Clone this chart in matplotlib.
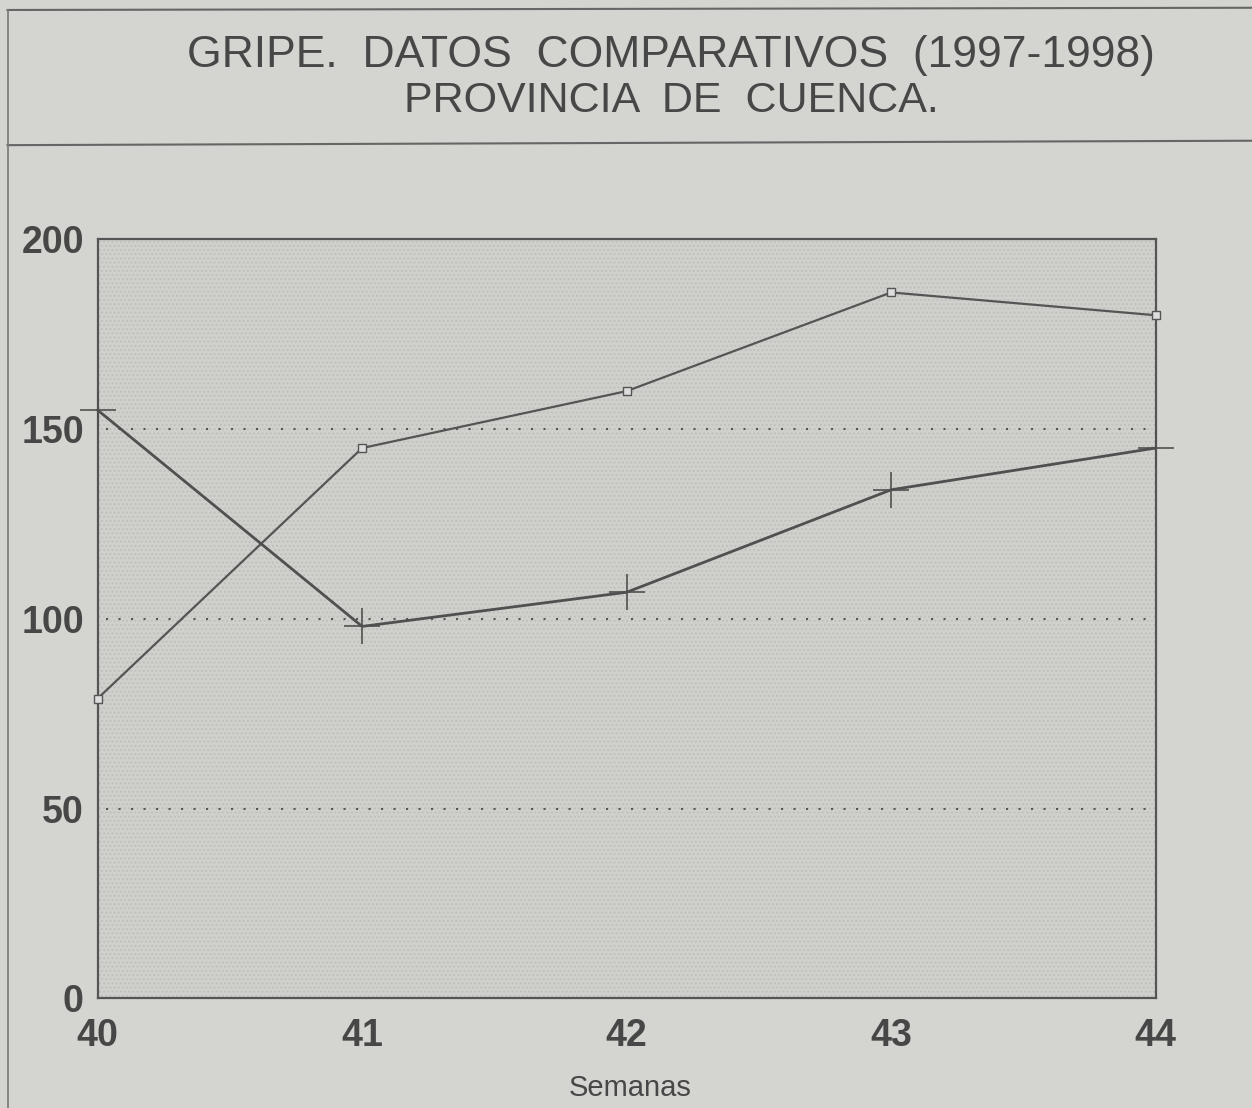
import matplotlib
matplotlib.use('Agg')

import matplotlib.pyplot as plt
from matplotlib.lines import Line2D

# data
semanas = [40, 41, 42, 43, 44]
serie_cuadros = [79, 145, 160, 186, 180]
serie_cruces = [155, 98, 107, 134, 145]
y_ticks = [0, 50, 100, 150, 200]

title_lines = ["GRIPE.  DATOS  COMPARATIVOS  (1997-1998)", "PROVINCIA  DE  CUENCA."]
xlabel = "Semanas"

font = ['Liberation Sans', 'DejaVu Sans']
ink = '#474747'
paper = '#d4d4d0'

fig = plt.figure(figsize=(12.52, 11.08), dpi=100)
fig.patch.set_facecolor(paper)

# frame lines of the newspaper box
fig.add_artist(Line2D([0.006, 1.0], [0.991, 0.993], transform=fig.transFigure, color='#666', lw=1.5))
fig.add_artist(Line2D([0.006, 1.0], [0.869, 0.873], transform=fig.transFigure, color='#666', lw=1.5))
fig.add_artist(Line2D([0.006, 0.006], [0.0, 0.991], transform=fig.transFigure, color='#777', lw=1.2))

fig.text(0.536, 0.950, title_lines[0], ha='center', va='center', fontsize=32,
         color=ink, family=font)
fig.text(0.536, 0.909, title_lines[1], ha='center', va='center', fontsize=31,
         color=ink, family=font)

ax = fig.add_axes([0.078, 0.099, 0.845, 0.685])
ax.set_facecolor('#d0d0cc')
ax.patch.set_hatch('....')
ax.patch.set_edgecolor('#c0c0bc')
for s in ax.spines.values():
    s.set_color('#555')
    s.set_linewidth(1.6)

ax.set_xlim(semanas[0], semanas[-1])
ax.set_ylim(0, 200)

for v in y_ticks[1:-1]:
    ax.axhline(v, color='#555', lw=1.5, ls=(0, (1, 5)), xmin=0.008)

ax.plot(semanas, serie_cuadros, color='#555', lw=1.6, marker='s', markersize=6,
        markerfacecolor='#ddd', markeredgecolor='#555', clip_on=False, zorder=3)
ax.plot(semanas, serie_cruces, color='#505050', lw=2.0, marker='+', markersize=26,
        markeredgewidth=1.2, clip_on=False, zorder=3)

ax.set_xticks(semanas)
ax.set_xticklabels([str(s) for s in semanas], fontsize=27, fontweight='bold',
                   color=ink, family=font)
ax.set_yticks(y_ticks)
ax.set_yticklabels([str(v) for v in y_ticks], fontsize=27, fontweight='bold',
                   color=ink, family=font)
ax.tick_params(axis='both', length=0)
ax.tick_params(axis='x', pad=14)
ax.tick_params(axis='y', pad=10)

fig.text(0.503, 0.018, xlabel, ha='center', va='center', fontsize=21,
         color=ink, family=font)

fig.savefig('out.png', dpi=100, facecolor=fig.get_facecolor())
